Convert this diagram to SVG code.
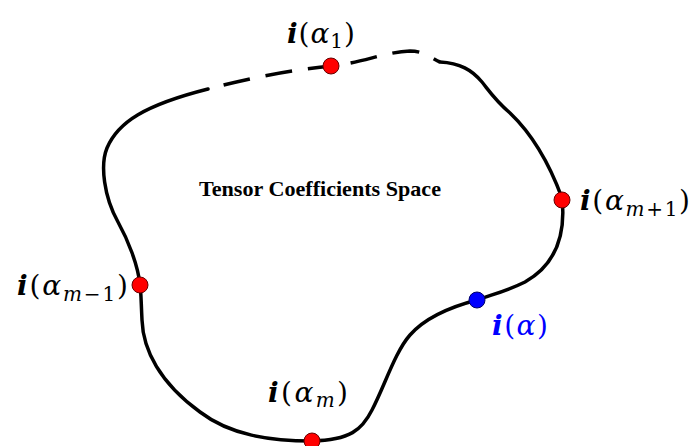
<svg xmlns="http://www.w3.org/2000/svg" width="692" height="446" viewBox="0 0 692 446">
<style>
.curve{fill:none;stroke:#000;stroke-width:3.5;stroke-linecap:round}
.dash{stroke-dasharray:27 16;stroke-dashoffset:27;stroke-linecap:butt}
.red{fill:#ff0000;stroke:#600;stroke-width:1}
.blue{fill:#0000ff;stroke:#006;stroke-width:1}
.lbl{font-family:"DejaVu Serif","Liberation Serif",serif;font-size:28px;fill:#000}
.b{font-weight:bold;font-style:italic}
.it{font-style:italic}
.sub{font-size:20px}
.title{font-family:"Liberation Serif",serif;font-weight:bold;font-size:22px;fill:#000}
</style>
<rect width="692" height="446" fill="#fff"/>
<g id="connectors">
<path class="curve" d="M440,62 C460,63 472,70 482,82 C490,92 495,100 510,113 C530,132 548,160 562,198 C566,235 555,265 525,282 C505,292 490,295 477,300 C450,307 425,318 410,335 C395,352 385,385 372,410 C362,430 350,440 312,441 C270,441 230,435 200,412 C160,383 143,350 142,320 C141,300 141,290 140,285 C138,265 128,240 118,222 C104,197 100,165 107,148 C118,122 145,105 208,89"/>
<path class="curve dash" d="M208,89 C250,78 290,70 332,66 C365,62 385,52 410,51 C425,51 432,59 440,62"/>
</g>
<g id="title"><text class="title" x="199" y="196" textLength="242" lengthAdjust="spacingAndGlyphs">Tensor Coefficients Space</text></g>
<g id="p1"><circle class="red" cx="331" cy="66" r="8"/>
<text class="lbl" x="287" y="43" textLength="68"><tspan class="b">i</tspan>(<tspan class="it">α</tspan><tspan class="sub" dy="5">1</tspan><tspan dy="-5">)</tspan></text></g>
<g id="pm1"><circle class="red" cx="140" cy="285" r="8"/>
<text class="lbl" x="17" y="295" textLength="111"><tspan class="b">i</tspan>(<tspan class="it">α</tspan><tspan class="sub" dy="6"><tspan class="it">m</tspan>−1</tspan><tspan dy="-6">)</tspan></text></g>
<g id="pp1"><circle class="red" cx="562" cy="200" r="8"/>
<text class="lbl" x="580" y="210" textLength="110"><tspan class="b">i</tspan>(<tspan class="it">α</tspan><tspan class="sub" dy="6"><tspan class="it">m</tspan>+1</tspan><tspan dy="-6">)</tspan></text></g>
<g id="pa"><circle class="blue" cx="477" cy="300" r="8"/>
<text class="lbl" x="492" y="335" textLength="56" style="fill:#0000ff"><tspan class="b">i</tspan>(<tspan class="it">α</tspan>)</text></g>
<g id="pm"><circle class="red" cx="312" cy="441" r="8"/>
<text class="lbl" x="268" y="402" textLength="80"><tspan class="b">i</tspan>(<tspan class="it">α</tspan><tspan class="sub it" dy="5">m</tspan><tspan dy="-5">)</tspan></text></g>
</svg>
